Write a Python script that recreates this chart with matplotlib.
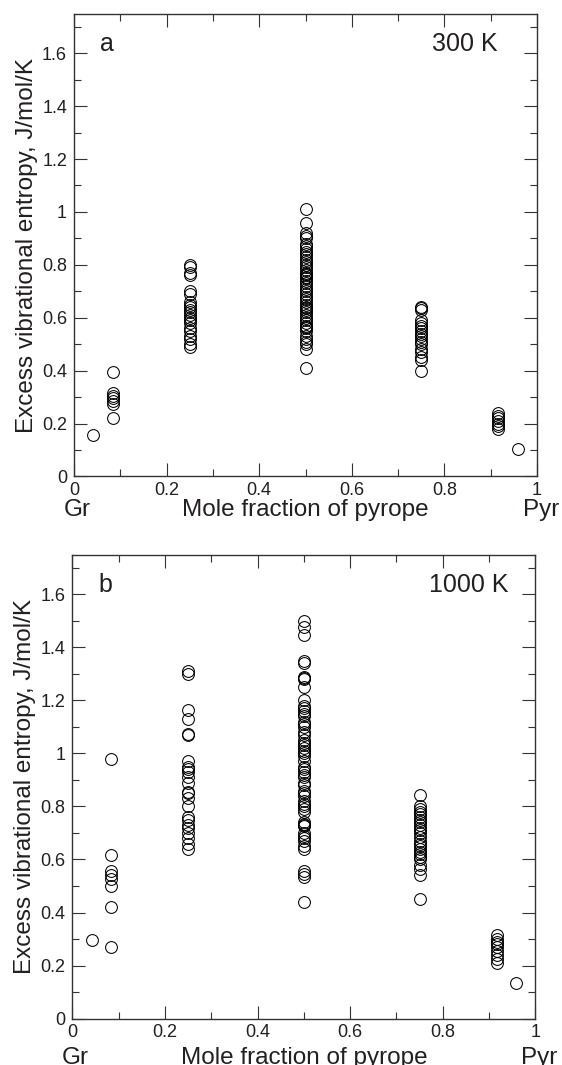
import matplotlib
matplotlib.use("Agg")
import matplotlib.pyplot as plt
from matplotlib.ticker import MultipleLocator, FuncFormatter

plt.rcParams['font.family'] = ['Liberation Sans', 'DejaVu Sans']

# compositions (mole fraction of pyrope)
comp = [1 / 24, 1 / 12, 1 / 4, 1 / 2, 3 / 4, 11 / 12, 23 / 24]

# excess vibrational entropy at 300 K, one list per composition
s300 = [
    [0.155],
    [0.395, 0.315, 0.305, 0.295, 0.285, 0.275, 0.22],
    [0.80, 0.79, 0.77, 0.76, 0.70, 0.69, 0.66, 0.65, 0.64, 0.63, 0.62,
     0.61, 0.60, 0.59, 0.58, 0.56, 0.55, 0.53, 0.52, 0.50, 0.49],
    [1.01, 0.96, 0.92, 0.91, 0.90, 0.88, 0.87, 0.86, 0.85, 0.84, 0.83,
     0.82, 0.81, 0.80, 0.79, 0.78, 0.77, 0.765, 0.76, 0.755, 0.75, 0.74,
     0.73, 0.72, 0.71, 0.70, 0.69, 0.68, 0.67, 0.66, 0.65, 0.64, 0.635,
     0.63, 0.62, 0.61, 0.60, 0.59, 0.58, 0.57, 0.565, 0.56, 0.55, 0.53,
     0.52, 0.51, 0.50, 0.48, 0.41],
    [0.64, 0.635, 0.63, 0.59, 0.58, 0.57, 0.56, 0.55, 0.54, 0.53, 0.52,
     0.51, 0.50, 0.48, 0.47, 0.45, 0.44, 0.40],
    [0.24, 0.23, 0.22, 0.21, 0.20, 0.19, 0.18],
    [0.103],
]

# excess vibrational entropy at 1000 K
s1000 = [
    [0.296],
    [0.98, 0.615, 0.555, 0.54, 0.525, 0.50, 0.42, 0.27],
    [1.31, 1.30, 1.165, 1.13, 1.075, 1.07, 0.97, 0.95, 0.94, 0.93, 0.91,
     0.89, 0.855, 0.85, 0.83, 0.80, 0.76, 0.75, 0.73, 0.72, 0.70, 0.68,
     0.66, 0.64],
    [1.50, 1.475, 1.445, 1.35, 1.34, 1.29, 1.285, 1.28, 1.25, 1.20, 1.18,
     1.17, 1.16, 1.15, 1.14, 1.12, 1.11, 1.10, 1.08, 1.07, 1.05, 1.04,
     1.03, 1.02, 1.01, 1.00, 0.99, 0.97, 0.95, 0.94, 0.93, 0.92, 0.91,
     0.89, 0.88, 0.86, 0.85, 0.84, 0.82, 0.81, 0.80, 0.79, 0.78, 0.74,
     0.735, 0.73, 0.725, 0.70, 0.69, 0.68, 0.67, 0.65, 0.64, 0.555,
     0.545, 0.535, 0.44],
    [0.845, 0.80, 0.79, 0.78, 0.77, 0.76, 0.75, 0.74, 0.73, 0.72, 0.71,
     0.70, 0.685, 0.67, 0.66, 0.65, 0.64, 0.63, 0.62, 0.61, 0.60, 0.58,
     0.565, 0.54, 0.45],
    [0.315, 0.30, 0.29, 0.28, 0.27, 0.255, 0.24, 0.225, 0.21],
    [0.134],
]

panels = [
    ("a", "300 K", s300, [0.1317, 0.5526, 0.8238, 0.4347], 0.916, -0.085),
    ("b", "1000 K", s1000, [0.1288, 0.0436, 0.8238, 0.4357], 0.943, -0.097),
]

ink = '#231f20'


def fmt(v, pos):
    return f"{v:g}"


fig = plt.figure(figsize=(5.62, 10.65), dpi=100)

for letter, temp, data, rect, temp_x, lab_y in panels:
    ax = fig.add_axes(rect)
    for x, vals in zip(comp, data):
        ax.plot([x] * len(vals), vals, 'o', mfc='none', mec='black',
                ms=8.5, mew=0.75, linestyle='none')

    ax.set_xlim(0, 1)
    ax.set_ylim(0, 1.75)
    ax.xaxis.set_major_locator(MultipleLocator(0.2))
    ax.xaxis.set_minor_locator(MultipleLocator(0.1))
    ax.yaxis.set_major_locator(MultipleLocator(0.2))
    ax.yaxis.set_minor_locator(MultipleLocator(0.1))
    ax.xaxis.set_major_formatter(FuncFormatter(fmt))
    ax.yaxis.set_major_formatter(FuncFormatter(fmt))
    ax.tick_params(which='both', direction='in', top=True, right=True,
                   width=0.8, color='#333333', labelsize=13,
                   labelcolor=ink)
    ax.tick_params(which='major', length=9.5, pad=5)
    ax.tick_params(axis='x', which='major', pad=4)
    ax.tick_params(which='minor', length=5)
    for sp in ax.spines.values():
        sp.set_linewidth(1.0)
        sp.set_color('#333333')

    ax.set_ylabel('Excess vibrational entropy, J/mol/K', fontsize=17.5,
                  color=ink, labelpad=3)

    ax.text(0.072, 0.935, letter, transform=ax.transAxes, fontsize=18,
            ha='center', va='center', color=ink)
    ax.text(temp_x, 0.935, temp, transform=ax.transAxes, fontsize=18,
            ha='right', va='center', color=ink)

    ax.text(0.007, lab_y, 'Gr', transform=ax.transAxes, fontsize=17.5,
            ha='center', va='baseline', color=ink)
    ax.text(0.5, lab_y, 'Mole fraction of pyrope', transform=ax.transAxes,
            fontsize=17.5, ha='center', va='baseline', color=ink)
    ax.text(1.008, lab_y, 'Pyr', transform=ax.transAxes, fontsize=17.5,
            ha='center', va='baseline', color=ink)

fig.savefig('out.png', dpi=100)
